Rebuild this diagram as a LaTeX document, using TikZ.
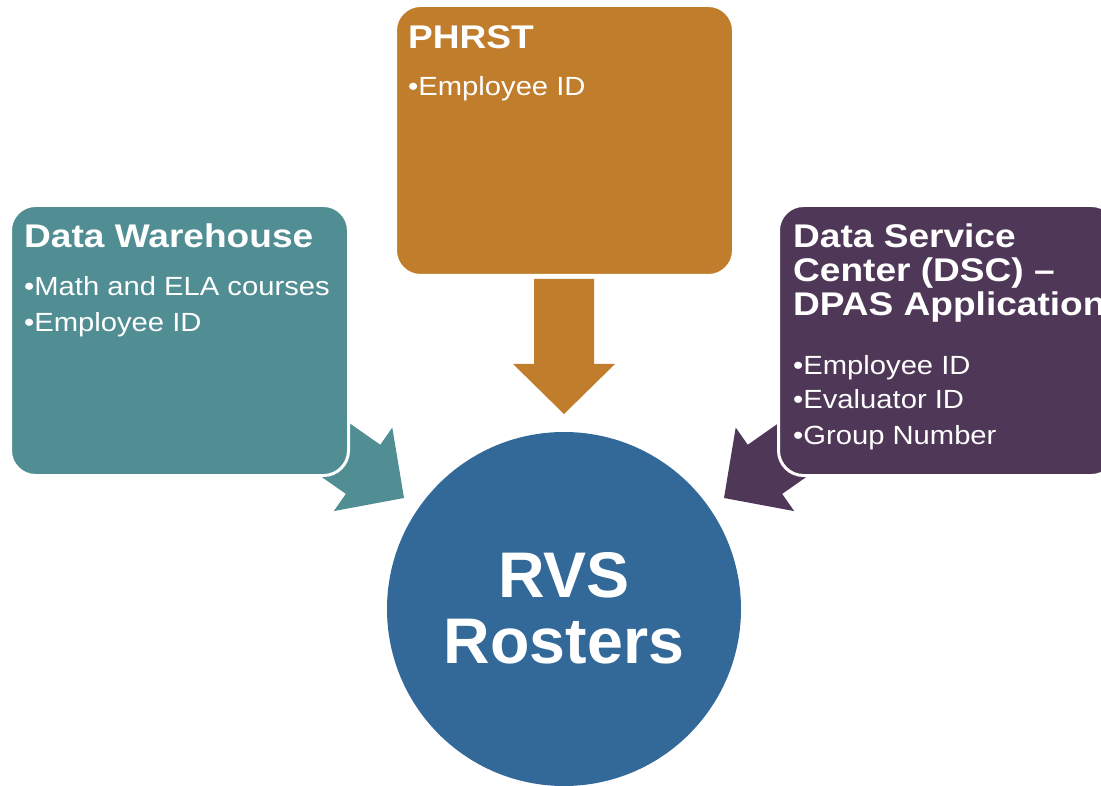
\documentclass[tikz,border=0pt]{standalone}
\usepackage{fontspec}
\setmainfont{Liberation Sans}
\newfontfamily\boxfont[FakeStretch=1.13]{Liberation Sans}
\newfontfamily\itemfont[FakeStretch=1.11]{Liberation Sans}
\definecolor{dwcol}{RGB}{81,142,148}
\definecolor{phcol}{RGB}{192,125,43}
\definecolor{dscol}{RGB}{79,56,87}
\definecolor{rvcol}{RGB}{51,105,153}
\begin{document}
\begin{tikzpicture}[x=1pt,y=-1pt,
  box/.style={rounded corners=25pt, draw=white, line width=3pt, inner sep=0pt, minimum width=338pt, minimum height=270pt},
  ttl/.style={anchor=base west, inner sep=0pt, text=white, font=\boxfont\bfseries\fontsize{32.8}{34}\selectfont},
  itm/.style={anchor=base west, inner sep=0pt, text=white, font=\itemfont\fontsize{26.3}{35}\selectfont},
  ctr/.style={anchor=base, inner sep=0pt, text=white, font=\bfseries\fontsize{64.5}{66}\selectfont}
]
\useasboundingbox (0,0) rectangle (1101,786);
\clip (0,0) rectangle (1101,786);
% block arrows
\begin{scope}[shift={(404,498)}, rotate=-35]
  \coordinate (a1) at (0,0);
  \fill[dwcol] (a1) -- (-50,51) -- (-50,30) -- (-135,30) -- (-135,-30) -- (-50,-30) -- (-50,-51) -- cycle;
\end{scope}
\begin{scope}[shift={(564,414)}, rotate=-90]
  \coordinate (a2) at (0,0);
  \fill[phcol] (a2) -- (-50,51) -- (-50,30) -- (-135,30) -- (-135,-30) -- (-50,-30) -- (-50,-51) -- cycle;
\end{scope}
\begin{scope}[shift={(724,498)}, rotate=-145]
  \coordinate (a3) at (0,0);
  \fill[dscol] (a3) -- (-50,51) -- (-50,30) -- (-135,30) -- (-135,-30) -- (-50,-30) -- (-50,-51) -- cycle;
\end{scope}
% boxes
\node[box, fill=dwcol] (dw) at (179.5,340.5) {};
\node[box, fill=phcol] (ph) at (564.5,140.5) {};
\node[box, fill=dscol] (ds) at (947.5,340.5) {};
% circle
\node[circle, fill=rvcol, inner sep=0pt, minimum size=354pt] (rvs) at (564,609) {};
% texts
\node[ttl] (dwt) at (24,248) {Data Warehouse};
\node[itm] (dw1) at (24,296) {•Math and ELA courses};
\node[itm] (dw2) at (24,332) {•Employee ID};
\node[ttl] (pht) at (408,49) {PHRST};
\node[itm] (ph1) at (408,96) {•Employee ID};
\node[ttl] (dst1) at (793,248) {Data Service};
\node[ttl] (dst2) at (793,282) {Center (DSC) –};
\node[ttl] (dst3) at (793,316) {DPAS Application};
\node[itm] (ds1) at (793,374) {•Employee ID};
\node[itm] (ds2) at (793,409) {•Evaluator ID};
\node[itm] (ds3) at (793,444) {•Group Number};
\node[ctr] (rv1) at (564,597) {RVS};
\node[ctr] (rv2) at (564,663) {Rosters};
\end{tikzpicture}
\end{document}
